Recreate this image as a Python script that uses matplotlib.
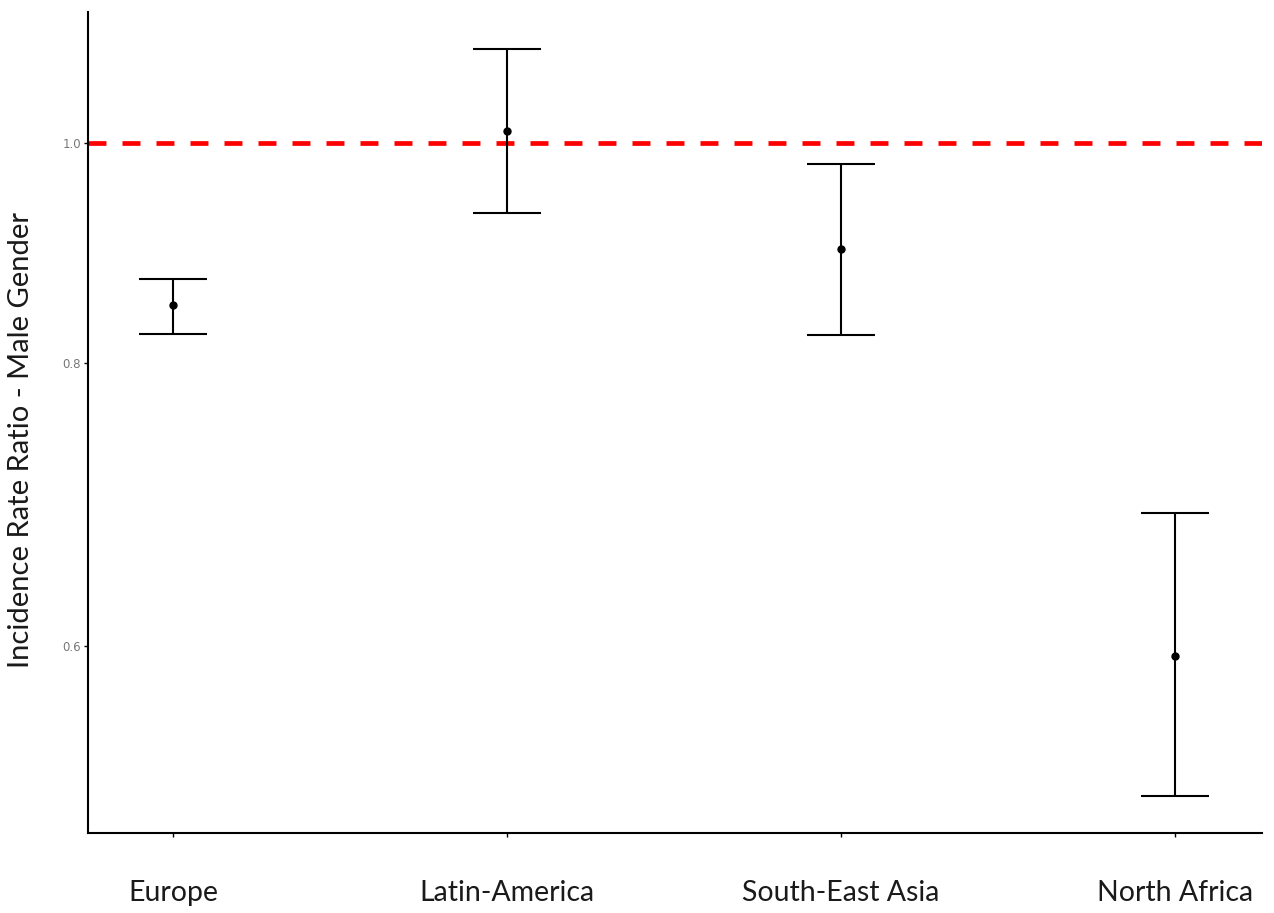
import numpy as np
import matplotlib.pyplot as plt

# Incidence rate ratios (male gender) with 95% CI
regions = ["Europe", "Latin-America", "South-East Asia", "North Africa"]
irr = [0.848, 1.012, 0.898, 0.594]
ci_low = [0.824, 0.931, 0.823, 0.515]
ci_high = [0.871, 1.100, 0.979, 0.687]

x = np.arange(1, len(regions) + 1)
irr = np.array(irr)
yerr = [irr - np.array(ci_low), np.array(ci_high) - irr]

fig = plt.figure(figsize=(12.74, 9.13), dpi=100)
ax = fig.add_axes([0.0691, 0.0876, 0.9215, 0.8993])

ax.axhline(1.0, color="#ff0000", linestyle=(0, (3.8, 3.4)), linewidth=3.4, zorder=1)
ax.errorbar(x, irr, yerr=yerr, fmt="o", color="black", markersize=5,
            elinewidth=1.5, capsize=24.5, capthick=1.5, zorder=3)

ax.set_yscale("log")
ax.set_ylim(10 ** -0.3045, 10 ** 0.0579)
ax.set_xlim(0.746, 4.26)
ax.yaxis.set_major_locator(plt.FixedLocator([0.6, 0.8, 1.0]))
ax.yaxis.set_minor_locator(plt.NullLocator())
ax.yaxis.set_major_formatter(plt.FixedFormatter(["0.6", "0.8", "1.0"]))
ax.set_xticks(x)
ax.set_xticklabels(regions, fontsize=20.5, family="Lato", color="#1a1a1a")
ax.tick_params(axis="x", length=3, width=1, pad=31)
ax.tick_params(axis="y", length=3, width=1, labelsize=8.5, labelcolor="#777777", pad=2)

for side in ["top", "right"]:
    ax.spines[side].set_visible(False)
for side in ["left", "bottom"]:
    ax.spines[side].set_linewidth(1.5)

ax.set_ylabel("Incidence Rate Ratio - Male Gender", fontsize=21, family="Lato", color="#1a1a1a")
ax.yaxis.set_label_coords(-0.046, 0.479)

fig.savefig("out.png", dpi=100, facecolor="white")
